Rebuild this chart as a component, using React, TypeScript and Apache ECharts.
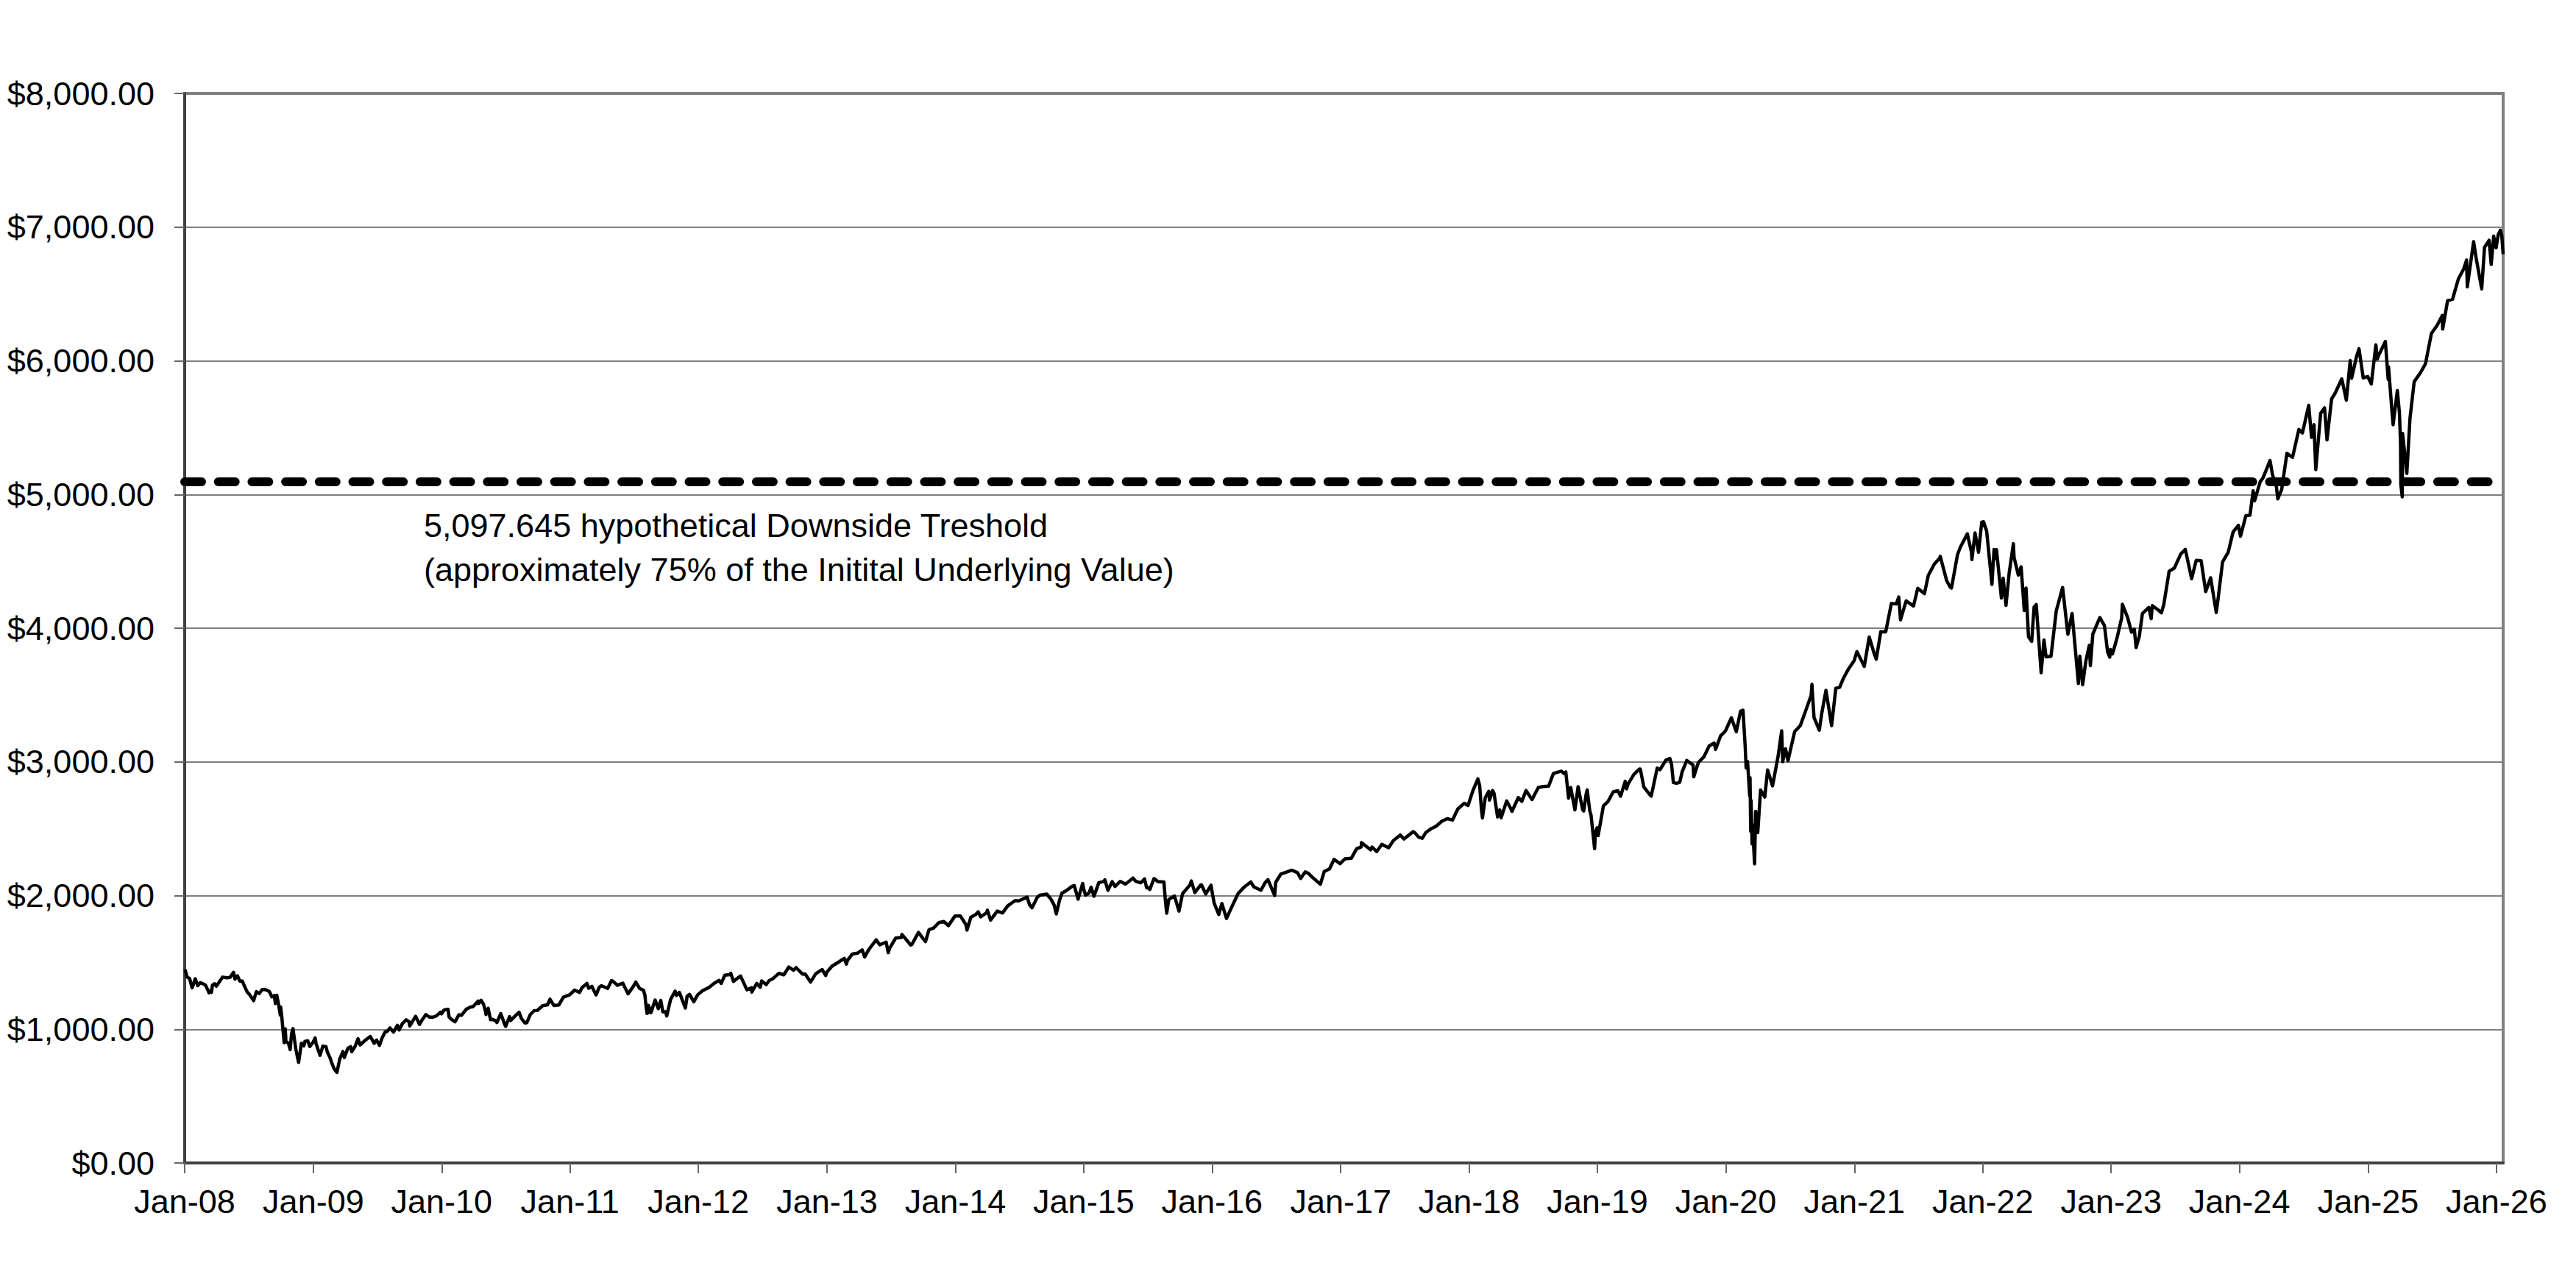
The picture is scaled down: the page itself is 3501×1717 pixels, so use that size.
import React, { useEffect, useRef } from "react";
import * as echarts from "echarts";

// S&P-style index level ([date, value])
const y2008: [string, number][] = [
  ["2008-01-02", 1447], ["2008-01-08", 1390], ["2008-01-15", 1380], ["2008-01-22", 1310], ["2008-01-25", 1330],
  ["2008-01-31", 1378], ["2008-02-07", 1326], ["2008-02-14", 1348], ["2008-02-21", 1342], ["2008-02-29", 1330],
  ["2008-03-07", 1293], ["2008-03-10", 1273], ["2008-03-14", 1288], ["2008-03-17", 1276], ["2008-03-20", 1330],
  ["2008-03-26", 1341], ["2008-03-31", 1322], ["2008-04-10", 1360], ["2008-04-18", 1390], ["2008-04-30", 1385],
  ["2008-05-09", 1388], ["2008-05-19", 1426], ["2008-05-23", 1375], ["2008-05-30", 1400], ["2008-06-06", 1360],
  ["2008-06-13", 1360], ["2008-06-20", 1317], ["2008-06-27", 1278], ["2008-07-03", 1262], ["2008-07-15", 1214],
  ["2008-07-23", 1282], ["2008-07-31", 1267], ["2008-08-08", 1296], ["2008-08-15", 1298], ["2008-08-22", 1292],
  ["2008-08-29", 1282], ["2008-09-05", 1242], ["2008-09-12", 1252], ["2008-09-15", 1193], ["2008-09-19", 1255],
  ["2008-09-24", 1186], ["2008-09-29", 1106], ["2008-09-30", 1166], ["2008-10-03", 1099], ["2008-10-10", 899],
  ["2008-10-13", 1003], ["2008-10-15", 908], ["2008-10-22", 896], ["2008-10-27", 848], ["2008-10-31", 968],
  ["2008-11-04", 1005], ["2008-11-12", 852], ["2008-11-20", 752], ["2008-11-28", 896], ["2008-12-05", 876],
  ["2008-12-08", 909], ["2008-12-16", 913], ["2008-12-22", 871], ["2008-12-31", 903],
];
const y2009: [string, number][] = [
  ["2009-01-06", 935], ["2009-01-09", 890], ["2009-01-20", 805], ["2009-01-28", 874], ["2009-02-06", 869],
  ["2009-02-10", 828], ["2009-02-17", 789], ["2009-02-23", 743], ["2009-03-02", 700], ["2009-03-09", 677],
  ["2009-03-17", 778], ["2009-03-26", 833], ["2009-03-30", 788], ["2009-04-09", 857], ["2009-04-17", 870],
  ["2009-04-20", 832], ["2009-04-30", 873], ["2009-05-08", 929], ["2009-05-14", 883], ["2009-05-29", 919],
  ["2009-06-12", 946], ["2009-06-23", 895], ["2009-06-30", 919], ["2009-07-08", 879], ["2009-07-15", 932],
  ["2009-07-24", 979], ["2009-07-31", 987], ["2009-08-07", 1010], ["2009-08-17", 979], ["2009-08-28", 1029],
  ["2009-09-02", 995], ["2009-09-11", 1042], ["2009-09-22", 1071], ["2009-09-30", 1057], ["2009-10-02", 1025],
  ["2009-10-19", 1097], ["2009-10-30", 1036], ["2009-11-06", 1069], ["2009-11-17", 1110], ["2009-11-27", 1091],
  ["2009-12-08", 1091], ["2009-12-18", 1102], ["2009-12-28", 1127], ["2009-12-31", 1115],
];
const y2010: [string, number][] = [
  ["2010-01-08", 1145], ["2010-01-19", 1150], ["2010-01-22", 1092], ["2010-01-29", 1074], ["2010-02-08", 1056],
  ["2010-02-19", 1109], ["2010-02-26", 1104], ["2010-03-12", 1150], ["2010-03-24", 1167], ["2010-03-31", 1169],
  ["2010-04-15", 1211], ["2010-04-16", 1192], ["2010-04-23", 1217], ["2010-04-30", 1187], ["2010-05-06", 1128],
  ["2010-05-07", 1110], ["2010-05-13", 1157], ["2010-05-20", 1072], ["2010-05-25", 1074], ["2010-06-04", 1064],
  ["2010-06-07", 1050], ["2010-06-18", 1117], ["2010-06-30", 1031], ["2010-07-02", 1022], ["2010-07-13", 1095],
  ["2010-07-16", 1065], ["2010-07-30", 1102], ["2010-08-09", 1127], ["2010-08-16", 1079], ["2010-08-26", 1047],
  ["2010-08-31", 1049], ["2010-09-10", 1110], ["2010-09-21", 1139], ["2010-09-30", 1141], ["2010-10-15", 1176],
  ["2010-10-29", 1183], ["2010-11-05", 1225], ["2010-11-16", 1178], ["2010-11-30", 1181], ["2010-12-13", 1240],
  ["2010-12-31", 1258],
];
const y2011: [string, number][] = [
  ["2011-01-14", 1293], ["2011-01-28", 1276], ["2011-02-04", 1311], ["2011-02-18", 1343], ["2011-02-23", 1307],
  ["2011-03-04", 1321], ["2011-03-16", 1257], ["2011-03-25", 1314], ["2011-03-31", 1326], ["2011-04-18", 1305],
  ["2011-04-29", 1364], ["2011-05-02", 1361], ["2011-05-16", 1329], ["2011-05-31", 1345], ["2011-06-15", 1265],
  ["2011-06-30", 1321], ["2011-07-07", 1353], ["2011-07-18", 1305], ["2011-07-29", 1292], ["2011-08-02", 1254],
  ["2011-08-04", 1200], ["2011-08-08", 1119], ["2011-08-10", 1121], ["2011-08-12", 1179], ["2011-08-19", 1124],
  ["2011-08-31", 1219], ["2011-09-09", 1154], ["2011-09-16", 1216], ["2011-09-22", 1130], ["2011-09-30", 1131],
  ["2011-10-03", 1099], ["2011-10-14", 1224], ["2011-10-27", 1285], ["2011-10-31", 1253], ["2011-11-08", 1276],
  ["2011-11-25", 1159], ["2011-11-30", 1247], ["2011-12-07", 1261], ["2011-12-19", 1206], ["2011-12-30", 1258],
];
const y2012: [string, number][] = [
  ["2012-01-13", 1289], ["2012-01-31", 1312], ["2012-02-15", 1344], ["2012-02-29", 1366], ["2012-03-06", 1343],
  ["2012-03-16", 1404], ["2012-03-30", 1408], ["2012-04-02", 1419], ["2012-04-10", 1358], ["2012-04-20", 1379],
  ["2012-04-30", 1398], ["2012-05-18", 1295], ["2012-05-31", 1310], ["2012-06-01", 1278], ["2012-06-15", 1343],
  ["2012-06-25", 1314], ["2012-06-29", 1362], ["2012-07-12", 1334], ["2012-07-20", 1363], ["2012-07-31", 1379],
  ["2012-08-17", 1418], ["2012-08-31", 1407], ["2012-09-14", 1465], ["2012-09-28", 1441], ["2012-10-05", 1461],
  ["2012-10-23", 1413], ["2012-10-31", 1412], ["2012-11-15", 1353], ["2012-11-30", 1416], ["2012-12-18", 1447],
  ["2012-12-28", 1402], ["2012-12-31", 1426],
];
const y2013: [string, number][] = [
  ["2013-01-15", 1472], ["2013-01-31", 1498], ["2013-02-19", 1530], ["2013-02-25", 1488], ["2013-02-28", 1515],
  ["2013-03-14", 1563], ["2013-03-28", 1569], ["2013-04-11", 1593], ["2013-04-18", 1541], ["2013-04-30", 1598],
  ["2013-05-21", 1669], ["2013-05-31", 1631], ["2013-06-18", 1652], ["2013-06-24", 1573], ["2013-06-28", 1606],
  ["2013-07-15", 1682], ["2013-07-31", 1686], ["2013-08-02", 1709], ["2013-08-27", 1630], ["2013-08-30", 1633],
  ["2013-09-18", 1725], ["2013-09-30", 1682], ["2013-10-08", 1656], ["2013-10-18", 1745], ["2013-10-31", 1757],
  ["2013-11-15", 1798], ["2013-11-29", 1806], ["2013-12-12", 1775], ["2013-12-31", 1848],
];
const y2014: [string, number][] = [
  ["2014-01-15", 1848], ["2014-01-31", 1783], ["2014-02-03", 1742], ["2014-02-14", 1838], ["2014-02-28", 1859],
  ["2014-03-07", 1878], ["2014-03-14", 1841], ["2014-03-31", 1872], ["2014-04-02", 1891], ["2014-04-11", 1816],
  ["2014-04-30", 1884], ["2014-05-15", 1870], ["2014-05-30", 1924], ["2014-06-20", 1963], ["2014-06-30", 1960],
  ["2014-07-24", 1988], ["2014-07-31", 1931], ["2014-08-07", 1909], ["2014-08-22", 1988], ["2014-08-29", 2003],
  ["2014-09-18", 2011], ["2014-09-30", 1972], ["2014-10-09", 1928], ["2014-10-15", 1862], ["2014-10-24", 1964],
  ["2014-10-31", 2018], ["2014-11-14", 2040], ["2014-11-28", 2068], ["2014-12-05", 2075], ["2014-12-16", 1973],
  ["2014-12-29", 2091], ["2014-12-31", 2059],
];
const y2015: [string, number][] = [
  ["2015-01-06", 2003], ["2015-01-16", 2019], ["2015-01-22", 2063], ["2015-01-30", 1995], ["2015-02-13", 2097],
  ["2015-02-27", 2105], ["2015-03-02", 2117], ["2015-03-11", 2040], ["2015-03-23", 2104], ["2015-03-31", 2068],
  ["2015-04-15", 2106], ["2015-04-30", 2086], ["2015-05-21", 2131], ["2015-05-29", 2107], ["2015-06-12", 2095],
  ["2015-06-23", 2124], ["2015-06-29", 2058], ["2015-06-30", 2063], ["2015-07-08", 2046], ["2015-07-20", 2128],
  ["2015-07-31", 2104], ["2015-08-17", 2102], ["2015-08-21", 1971], ["2015-08-25", 1868], ["2015-08-31", 1972],
  ["2015-09-16", 1996], ["2015-09-29", 1884], ["2015-10-09", 2014], ["2015-10-30", 2079], ["2015-11-03", 2109],
  ["2015-11-13", 2023], ["2015-11-30", 2080], ["2015-12-02", 2080], ["2015-12-14", 2012], ["2015-12-29", 2078],
  ["2015-12-31", 2044],
];
const y2016: [string, number][] = [
  ["2016-01-07", 1943], ["2016-01-20", 1859], ["2016-01-29", 1940], ["2016-02-11", 1829], ["2016-02-29", 1932],
  ["2016-03-15", 2015], ["2016-03-31", 2060], ["2016-04-20", 2102], ["2016-04-29", 2065], ["2016-05-19", 2040],
  ["2016-05-31", 2097], ["2016-06-08", 2119], ["2016-06-27", 2001], ["2016-06-30", 2099], ["2016-07-15", 2162],
  ["2016-07-29", 2174], ["2016-08-15", 2190], ["2016-08-31", 2171], ["2016-09-09", 2128], ["2016-09-22", 2177],
  ["2016-09-30", 2168], ["2016-10-14", 2133], ["2016-11-04", 2085], ["2016-11-15", 2180], ["2016-11-30", 2199],
  ["2016-12-13", 2271], ["2016-12-30", 2239],
];
const y2017: [string, number][] = [
  ["2017-01-13", 2275], ["2017-01-31", 2279], ["2017-02-15", 2350], ["2017-02-28", 2364], ["2017-03-01", 2396],
  ["2017-03-27", 2342], ["2017-03-31", 2363], ["2017-04-13", 2329], ["2017-04-28", 2384], ["2017-05-17", 2357],
  ["2017-05-31", 2412], ["2017-06-19", 2453], ["2017-06-30", 2423], ["2017-07-26", 2478], ["2017-07-31", 2470],
  ["2017-08-10", 2438], ["2017-08-21", 2428], ["2017-08-31", 2472], ["2017-09-15", 2500], ["2017-09-29", 2519],
  ["2017-10-16", 2557], ["2017-10-31", 2575], ["2017-11-15", 2565], ["2017-11-30", 2648], ["2017-12-18", 2690],
  ["2017-12-29", 2674],
];
const y2018: [string, number][] = [
  ["2018-01-12", 2786], ["2018-01-26", 2873], ["2018-01-31", 2824], ["2018-02-05", 2649], ["2018-02-08", 2581],
  ["2018-02-16", 2732], ["2018-02-26", 2780], ["2018-02-28", 2714], ["2018-03-09", 2786], ["2018-03-13", 2765],
  ["2018-03-23", 2588], ["2018-03-29", 2641], ["2018-04-02", 2582], ["2018-04-18", 2708], ["2018-04-30", 2648],
  ["2018-05-03", 2630], ["2018-05-21", 2733], ["2018-05-31", 2705], ["2018-06-12", 2786], ["2018-06-29", 2718],
  ["2018-07-17", 2809], ["2018-07-31", 2816], ["2018-08-15", 2818], ["2018-08-29", 2914], ["2018-09-20", 2931],
  ["2018-09-28", 2914], ["2018-10-03", 2925], ["2018-10-11", 2729], ["2018-10-17", 2809], ["2018-10-29", 2641],
  ["2018-11-07", 2814], ["2018-11-20", 2642], ["2018-11-23", 2633], ["2018-11-30", 2760], ["2018-12-03", 2790],
  ["2018-12-10", 2637], ["2018-12-14", 2599], ["2018-12-24", 2351], ["2018-12-26", 2468], ["2018-12-31", 2507],
];
const y2019: [string, number][] = [
  ["2019-01-03", 2448], ["2019-01-18", 2671], ["2019-01-31", 2704], ["2019-02-15", 2776], ["2019-02-28", 2784],
  ["2019-03-08", 2743], ["2019-03-21", 2855], ["2019-03-25", 2798], ["2019-03-29", 2834], ["2019-04-15", 2907],
  ["2019-04-30", 2946], ["2019-05-03", 2946], ["2019-05-13", 2812], ["2019-05-31", 2752], ["2019-06-03", 2744],
  ["2019-06-20", 2954], ["2019-06-28", 2942], ["2019-07-15", 3014], ["2019-07-26", 3026], ["2019-07-31", 2980],
  ["2019-08-05", 2845], ["2019-08-14", 2840], ["2019-08-23", 2847], ["2019-08-30", 2926], ["2019-09-12", 3010],
  ["2019-09-30", 2977], ["2019-10-02", 2888], ["2019-10-15", 2996], ["2019-10-31", 3038], ["2019-11-15", 3120],
  ["2019-11-29", 3141], ["2019-12-03", 3093], ["2019-12-17", 3193], ["2019-12-31", 3231],
];
const y2020: [string, number][] = [
  ["2020-01-17", 3330], ["2020-01-31", 3226], ["2020-02-12", 3379], ["2020-02-19", 3386], ["2020-02-25", 3128],
  ["2020-02-28", 2954], ["2020-03-03", 3003], ["2020-03-09", 2747], ["2020-03-10", 2882], ["2020-03-12", 2481],
  ["2020-03-13", 2711], ["2020-03-16", 2386], ["2020-03-17", 2529], ["2020-03-23", 2237], ["2020-03-26", 2630],
  ["2020-04-01", 2471], ["2020-04-09", 2790], ["2020-04-21", 2737], ["2020-04-29", 2940], ["2020-05-13", 2820],
  ["2020-05-29", 3044], ["2020-06-08", 3232], ["2020-06-11", 3002], ["2020-06-19", 3098], ["2020-06-26", 3009],
  ["2020-07-15", 3227], ["2020-07-31", 3271], ["2020-08-14", 3373], ["2020-08-31", 3500], ["2020-09-02", 3580],
  ["2020-09-08", 3332], ["2020-09-23", 3237], ["2020-09-30", 3363], ["2020-10-12", 3535], ["2020-10-28", 3271],
  ["2020-11-09", 3550], ["2020-11-20", 3558], ["2020-11-30", 3622], ["2020-12-15", 3695], ["2020-12-31", 3756],
];
const y2021: [string, number][] = [
  ["2021-01-08", 3825], ["2021-01-29", 3714], ["2021-02-12", 3934], ["2021-02-26", 3811], ["2021-03-04", 3768],
  ["2021-03-17", 3974], ["2021-03-31", 3973], ["2021-04-16", 4185], ["2021-04-30", 4181], ["2021-05-07", 4233],
  ["2021-05-12", 4063], ["2021-05-28", 4204], ["2021-06-18", 4166], ["2021-06-30", 4298], ["2021-07-19", 4258],
  ["2021-07-30", 4395], ["2021-08-16", 4479], ["2021-08-31", 4523], ["2021-09-02", 4537], ["2021-09-20", 4358],
  ["2021-09-30", 4308], ["2021-10-04", 4300], ["2021-10-21", 4549], ["2021-10-29", 4605], ["2021-11-18", 4705],
  ["2021-11-30", 4567], ["2021-12-01", 4513], ["2021-12-10", 4712], ["2021-12-20", 4568], ["2021-12-29", 4793],
  ["2021-12-31", 4766],
];
const y2022: [string, number][] = [
  ["2022-01-03", 4797], ["2022-01-12", 4726], ["2022-01-24", 4410], ["2022-01-27", 4327], ["2022-02-02", 4589],
  ["2022-02-08", 4521], ["2022-02-09", 4587], ["2022-02-23", 4226], ["2022-02-28", 4374], ["2022-03-08", 4171],
  ["2022-03-17", 4412], ["2022-03-29", 4632], ["2022-03-31", 4530], ["2022-04-12", 4397], ["2022-04-20", 4459],
  ["2022-04-29", 4132], ["2022-05-04", 4300], ["2022-05-11", 3935], ["2022-05-20", 3901], ["2022-05-27", 4158],
  ["2022-06-02", 4177], ["2022-06-16", 3667], ["2022-06-24", 3912], ["2022-06-30", 3785], ["2022-07-14", 3790],
  ["2022-07-29", 4130], ["2022-08-16", 4305], ["2022-08-31", 3955], ["2022-09-12", 4110], ["2022-09-30", 3586],
  ["2022-10-04", 3791], ["2022-10-12", 3577], ["2022-10-21", 3752], ["2022-10-31", 3872], ["2022-11-03", 3720],
  ["2022-11-10", 3956], ["2022-11-30", 4080], ["2022-12-13", 4019], ["2022-12-22", 3822], ["2022-12-28", 3783],
  ["2022-12-30", 3840],
];
const y2023: [string, number][] = [
  ["2023-01-05", 3808], ["2023-01-18", 3929], ["2023-01-31", 4077], ["2023-02-02", 4179], ["2023-02-17", 4079],
  ["2023-02-28", 3970], ["2023-03-08", 3992], ["2023-03-13", 3855], ["2023-03-22", 3937], ["2023-03-31", 4109],
  ["2023-04-18", 4155], ["2023-04-25", 4071], ["2023-04-28", 4169], ["2023-05-15", 4136], ["2023-05-24", 4115],
  ["2023-05-31", 4180], ["2023-06-15", 4426], ["2023-06-30", 4450], ["2023-07-18", 4555], ["2023-07-31", 4589],
  ["2023-08-18", 4370], ["2023-08-31", 4508], ["2023-09-14", 4505], ["2023-09-27", 4274], ["2023-09-29", 4288],
  ["2023-10-11", 4377], ["2023-10-27", 4117], ["2023-10-31", 4194], ["2023-11-14", 4496], ["2023-11-30", 4568],
  ["2023-12-14", 4720], ["2023-12-29", 4770],
];
const y2024: [string, number][] = [
  ["2024-01-04", 4688], ["2024-01-19", 4840], ["2024-01-31", 4846], ["2024-02-09", 5027], ["2024-02-13", 4953],
  ["2024-02-29", 5096], ["2024-03-08", 5124], ["2024-03-28", 5254], ["2024-04-04", 5147], ["2024-04-15", 5061],
  ["2024-04-19", 4967], ["2024-04-30", 5036], ["2024-05-15", 5308], ["2024-05-31", 5278], ["2024-06-18", 5487],
  ["2024-06-28", 5460], ["2024-07-16", 5667], ["2024-07-24", 5427], ["2024-07-31", 5522], ["2024-08-05", 5186],
  ["2024-08-19", 5608], ["2024-08-30", 5648], ["2024-09-06", 5408], ["2024-09-19", 5714], ["2024-09-30", 5762],
  ["2024-10-18", 5865], ["2024-10-31", 5705], ["2024-11-11", 6001], ["2024-11-15", 5870], ["2024-11-29", 6032],
  ["2024-12-06", 6090], ["2024-12-18", 5872], ["2024-12-31", 5882],
];
const y2025: [string, number][] = [
  ["2025-01-10", 5827], ["2025-01-23", 6119], ["2025-01-27", 6012], ["2025-01-31", 6041], ["2025-02-19", 6144],
  ["2025-02-27", 5861], ["2025-02-28", 5955], ["2025-03-10", 5614], ["2025-03-13", 5522], ["2025-03-25", 5777],
  ["2025-03-31", 5612], ["2025-04-03", 5397], ["2025-04-04", 5074], ["2025-04-08", 4982], ["2025-04-09", 5457],
  ["2025-04-21", 5158], ["2025-04-30", 5569], ["2025-05-12", 5844], ["2025-05-30", 5912], ["2025-06-13", 5977],
  ["2025-06-30", 6205], ["2025-07-16", 6264], ["2025-07-31", 6339], ["2025-08-01", 6238], ["2025-08-15", 6450],
  ["2025-08-29", 6460], ["2025-09-15", 6615], ["2025-09-30", 6688], ["2025-10-08", 6754], ["2025-10-10", 6553],
  ["2025-10-28", 6891], ["2025-11-04", 6771], ["2025-11-20", 6538], ["2025-11-28", 6849], ["2025-12-11", 6901],
  ["2025-12-17", 6721], ["2025-12-24", 6932], ["2025-12-31", 6845],
];
const y2026: [string, number][] = [
  ["2026-01-06", 6944], ["2026-01-12", 6977], ["2026-01-15", 6944], ["2026-01-16", 6940], ["2026-01-20", 6797],
];

const threshold = 5097.645;
const annotationLines = [
  "5,097.645 hypothetical Downside Treshold",
  "(approximately 75% of the Initital Underlying Value)",
];
const tickDates = [
  "2008-01-01", "2009-01-01", "2010-01-01", "2011-01-01", "2012-01-01", "2013-01-01", "2014-01-01",
  "2015-01-01", "2016-01-01", "2017-01-01", "2018-01-01", "2019-01-01", "2020-01-01", "2021-01-01",
  "2022-01-01", "2023-01-01", "2024-01-01", "2025-01-01", "2026-01-01",
];
const tickLabels = [
  "Jan-08", "Jan-09", "Jan-10", "Jan-11", "Jan-12", "Jan-13", "Jan-14", "Jan-15", "Jan-16", "Jan-17",
  "Jan-18", "Jan-19", "Jan-20", "Jan-21", "Jan-22", "Jan-23", "Jan-24", "Jan-25", "Jan-26",
];
const xStartDate = "2008-01-01";
const xEndDate = "2026-01-20";
const yMin = 0;
const yMax = 8000;
const yStep = 1000;

const FONT = "'Liberation Sans', Arial, Helvetica, sans-serif";
const DAY = 86400000;

// day offset from the start date (UTC, so leap years are counted exactly)
function dayOf(d: string): number {
  const [y, m, dd] = d.split("-").map(Number);
  const [y0, m0, d0] = xStartDate.split("-").map(Number);
  return Math.round((Date.UTC(y, m - 1, dd) - Date.UTC(y0, m0 - 1, d0)) / DAY);
}

function fmtDollar(v: number): string {
  const s = Math.round(v).toString().replace(/\B(?=(\d{3})+(?!\d))/g, ",");
  return "$" + s + ".00";
}

export default function App() {
  const ref = useRef<HTMLDivElement>(null);
  useEffect(() => {
    if (!ref.current) return;
    const chart = echarts.init(ref.current, undefined, { renderer: "svg" });
    const rows = [
      ...y2008, ...y2009, ...y2010, ...y2011, ...y2012, ...y2013, ...y2014, ...y2015, ...y2016,
      ...y2017, ...y2018, ...y2019, ...y2020, ...y2021, ...y2022, ...y2023, ...y2024, ...y2025, ...y2026,
    ];
    const data = rows.map(([d, v]) => [dayOf(d), v]);
    const tickPos = tickDates.map(dayOf);
    const labelOf: Record<number, string> = {};
    tickPos.forEach((p, i) => (labelOf[p] = tickLabels[i]));
    chart.setOption({
      animation: false,
      backgroundColor: "#ffffff",
      grid: {
        left: 251,
        right: 99,
        top: 127,
        bottom: 136,
        show: true,
        borderColor: "#808080",
        borderWidth: 4,
        backgroundColor: "transparent",
      },
      xAxis: {
        type: "value",
        min: 0,
        max: dayOf(xEndDate),
        axisLine: { show: true, onZero: false, lineStyle: { color: "#404040", width: 4 } },
        axisTick: {
          show: true,
          length: 14,
          lineStyle: { color: "#666666", width: 2 },
          customValues: tickPos,
        },
        axisLabel: {
          show: true,
          customValues: tickPos,
          margin: 30,
          fontSize: 45,
          fontFamily: FONT,
          color: "#000000",
          formatter: (v: number) => labelOf[Math.round(v)] ?? "",
        },
        splitLine: { show: false },
      },
      yAxis: {
        type: "value",
        min: yMin,
        max: yMax,
        interval: yStep,
        axisLine: { show: true, lineStyle: { color: "#404040", width: 4 } },
        axisTick: { show: true, length: 14, lineStyle: { color: "#666666", width: 2 } },
        axisLabel: {
          margin: 41,
          fontSize: 45,
          fontFamily: FONT,
          color: "#000000",
          formatter: (v: number) => fmtDollar(v),
        },
        splitLine: { show: true, lineStyle: { color: "#7f7f7f", width: 2 } },
      },
      series: [
        {
          type: "line",
          data,
          showSymbol: false,
          symbol: "none",
          lineStyle: { color: "#000000", width: 4.5, join: "round" },
          z: 3,
          markLine: {
            silent: true,
            symbol: ["none", "none"],
            label: { show: false },
            lineStyle: { color: "#000000", width: 12, type: [23, 22.7], cap: "round" },
            data: [{ yAxis: threshold }],
            z: 4,
          },
        },
      ],
      graphic: [
        {
          type: "text",
          left: 576,
          top: 684,
          style: {
            text: annotationLines.join("\n"),
            font: `45px ${FONT}`,
            lineHeight: 60,
            fill: "#000000",
          },
        },
      ],
    });
    return () => chart.dispose();
  }, []);
  return (
    <div
      ref={ref}
      style={{ position: "fixed", left: 0, top: 0, width: 3501, height: 1717, background: "#fff" }}
    />
  );
}
